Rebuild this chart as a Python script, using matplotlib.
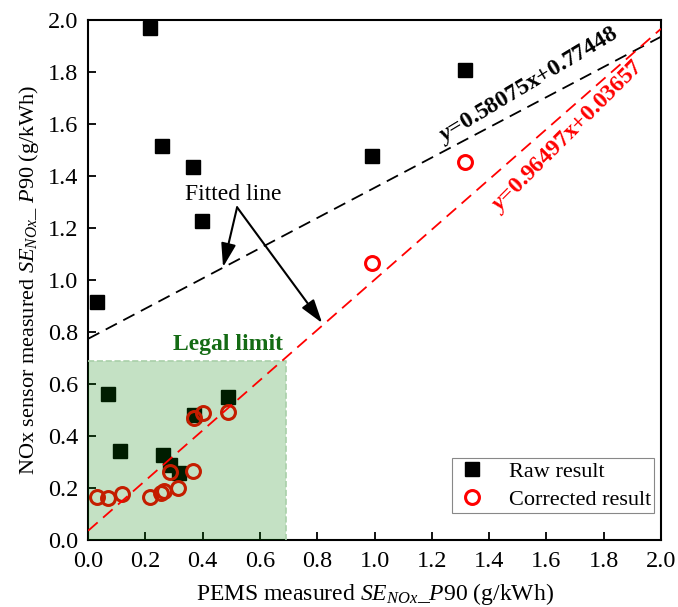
import numpy as np
import matplotlib
matplotlib.use("Agg")
from matplotlib import pyplot as plt
from matplotlib.patches import Rectangle

plt.rcParams['font.family'] = ['Liberation Serif', 'DejaVu Serif']
plt.rcParams['mathtext.fontset'] = 'custom'
plt.rcParams['mathtext.rm'] = 'Liberation Serif'
plt.rcParams['mathtext.it'] = 'Liberation Serif:italic'
plt.rcParams['mathtext.bf'] = 'Liberation Serif:bold'
plt.rcParams['mathtext.bfit'] = 'Liberation Serif:italic:bold'

# PEMS vs sensor P90 values (g/kWh)
raw_x = [0.031, 0.216, 0.258, 0.366, 0.398, 0.991, 1.316,
         0.070, 0.112, 0.262, 0.286, 0.318, 0.370, 0.489]
raw_y = [0.915, 1.970, 1.515, 1.435, 1.227, 1.477, 1.808,
         0.562, 0.343, 0.327, 0.288, 0.257, 0.481, 0.550]

cor_x = [0.031, 0.070, 0.118, 0.216, 0.255, 0.265, 0.314,
         0.286, 0.366, 0.370, 0.401, 0.489, 0.991, 1.316]
cor_y = [0.165, 0.162, 0.177, 0.165, 0.182, 0.190, 0.200,
         0.262, 0.265, 0.469, 0.488, 0.492, 1.065, 1.454]

# linear fits
raw_fit = (0.58075, 0.77448)
cor_fit = (0.96497, 0.03657)
legal_limit = 0.69

fig = plt.figure(figsize=(6.78, 6.07), dpi=100)
ax = fig.add_axes([0.130, 0.110, 0.845, 0.857])

ax.plot(raw_x, raw_y, 's', color='black', markersize=10, zorder=2,
        label='Raw result')
ax.plot(cor_x, cor_y, 'o', mfc='none', mec='red', mew=2.2, markersize=10,
        zorder=2, label='Corrected result')

# legal limit box drawn over the points
ax.add_patch(Rectangle((0, 0), legal_limit, legal_limit, facecolor=(0, 0.5, 0),
                       alpha=0.23, edgecolor='none', zorder=3))
ax.plot([0, legal_limit, legal_limit], [legal_limit, legal_limit, 0],
        color='#a9cfa9', lw=1.2, ls='--', zorder=3)
ax.text(0.489, 0.752, 'Legal limit', color='#146b14', fontsize=17,
        fontweight='bold', ha='center', va='center')

xs = np.array([0, 2.0])
ax.plot(xs, raw_fit[0] * xs + raw_fit[1], color='black', lw=1.3,
        dashes=(7, 4), zorder=4)
ax.plot(xs, cor_fit[0] * xs + cor_fit[1], color='red', lw=1.3,
        dashes=(7, 4), zorder=4)

ax.text(1.535, 1.748, r'$\mathbfit{y}$=0.58075x+0.77448', fontsize=17,
        fontweight='bold', rotation=31, ha='center', va='center')
ax.text(1.672, 1.55, r'$\mathbfit{y}$=0.96497x+0.03657', fontsize=17,
        fontweight='bold', color='red', rotation=45, ha='center', va='center')

ax.text(0.505, 1.33, 'Fitted line', fontsize=17, ha='center', va='center')
arrow = dict(arrowstyle='-|>,head_length=0.8,head_width=0.25', color='black',
             lw=1.5, mutation_scale=18, shrinkA=0, shrinkB=0)
ax.annotate('', xy=(0.471, 1.05), xytext=(0.52, 1.28), arrowprops=arrow)
ax.annotate('', xy=(0.817, 0.835), xytext=(0.52, 1.28), arrowprops=arrow)

ax.set_xlim(0, 2.0)
ax.set_ylim(0, 2.0)
ax.set_xticks(np.arange(0, 2.01, 0.2))
ax.set_yticks(np.arange(0, 2.01, 0.2))
ax.tick_params(direction='in', length=6, width=1.3, labelsize=17.5,
               top=False, right=False)
ax.tick_params(axis='x', pad=8)
ax.tick_params(axis='y', pad=7)
for s in ax.spines.values():
    s.set_linewidth(1.5)

ax.set_xlabel(r'PEMS measured $SE_{NOx}$_$P$90 (g/kWh)', fontsize=17,
              labelpad=6.5)
ax.set_ylabel(r'NOx sensor measured $SE_{NOx}$_ $P$90 (g/kWh)', fontsize=16,
              labelpad=5)

leg = ax.legend(loc='lower right', bbox_to_anchor=(0.988, 0.052),
                fontsize=16, fancybox=False, edgecolor='#888888', framealpha=1,
                borderpad=0.15, labelspacing=0.35, handletextpad=0.9,
                borderaxespad=0, handlelength=1.5)
leg.get_frame().set_linewidth(0.8)

fig.savefig('out.png', dpi=100)
